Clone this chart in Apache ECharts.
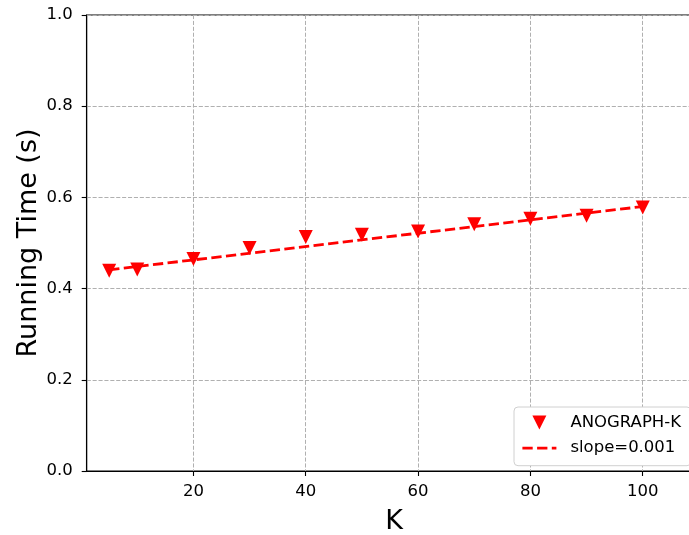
<!DOCTYPE html>
<html>
<head>
<meta charset="utf-8">
<script src="https://cdn.jsdelivr.net/npm/echarts@6/dist/echarts.min.js"></script>
<style>
html,body{margin:0;padding:0;background:#fff;}
#chart{width:689px;height:535px;}
</style>
</head>
<body>
<div id="chart"></div>
<script>
// Data
var kValues = [5, 10, 20, 30, 40, 50, 60, 70, 80, 90, 100];
var runningTime = [0.439, 0.442, 0.465, 0.489, 0.513, 0.518, 0.525, 0.541, 0.553, 0.560, 0.578];
var fitK = [5, 100];
var fitTime = [0.441, 0.580];
var xTicks = [20, 40, 60, 80, 100];
var yTicks = [0.0, 0.2, 0.4, 0.6, 0.8, 1.0];
var seriesName = 'ANOGRAPH-K';
var fitName = 'slope=0.001';

var scatterData = kValues.map(function (k, i) { return [k, runningTime[i]]; });
var fitData = fitK.map(function (k, i) { return [k, fitTime[i]]; });

var FONT = 'DejaVu Sans';
var chart = echarts.init(document.getElementById('chart'), null, {renderer: 'canvas'});
chart.setOption({
  backgroundColor: '#ffffff',
  animation: false,
  grid: {
    left: 86.7, top: 15, width: 615, height: 456,
    outerBoundsMode: 'none', containLabel: false,
    show: true, borderColor: '#000', borderWidth: 1.1, backgroundColor: 'transparent'
  },
  legend: {
    orient: 'vertical',
    left: 514, top: 407,
    padding: [7, 10, 9, 7],
    itemWidth: 34, itemHeight: 14, itemGap: 8.7,
    backgroundColor: '#fff',
    borderColor: '#d0d0d0', borderWidth: 1, borderRadius: 4,
    textStyle: {fontFamily: FONT, fontSize: 16.5, color: '#000', lineHeight: 14, padding: [0, 0, 0, 9]},
    data: [
      {name: seriesName, icon: 'path://M0,0L10,0L5,10Z'},
      {name: fitName, itemStyle: {opacity: 0, color: 'rgba(0,0,0,0)', borderWidth: 0},
        lineStyle: {width: 2.8, type: [10.3, 4.4], color: '#ff0000'}}
    ]
  },
  xAxis: {
    type: 'value',
    min: 1, max: 110.5,
    name: 'K', nameLocation: 'middle', nameGap: 37,
    nameTextStyle: {fontFamily: FONT, fontSize: 27, color: '#000'},
    axisLine: {show: true, lineStyle: {color: '#000', width: 1.1}},
    axisTick: {show: true, length: 5, lineStyle: {color: '#000', width: 1.1}, customValues: xTicks},
    axisLabel: {fontFamily: FONT, fontSize: 16.5, color: '#000', margin: 12, customValues: xTicks,
      formatter: function (v) { return String(v); }},
    splitLine: {show: true, lineStyle: {color: '#b0b0b0', width: 1, type: [4.1, 1.8]}}
  },
  yAxis: {
    type: 'value',
    min: 0, max: 1, interval: 0.2,
    name: 'Running Time (s)', nameLocation: 'middle', nameGap: 44, nameRotate: 90,
    nameMoveOverlap: false,
    nameTextStyle: {fontFamily: FONT, fontSize: 27, color: '#000'},
    axisLine: {show: true, lineStyle: {color: '#000', width: 1.1}},
    axisTick: {show: true, length: 5, lineStyle: {color: '#000', width: 1.1}},
    axisLabel: {fontFamily: FONT, fontSize: 16.5, color: '#000', margin: 14,
      formatter: function (v) { return v.toFixed(1); }},
    splitLine: {show: true, lineStyle: {color: '#b0b0b0', width: 1, type: [4.1, 1.8]}}
  },
  series: [
    {
      name: seriesName, type: 'scatter', data: scatterData,
      symbol: 'triangle', symbolRotate: 180, symbolSize: 14,
      itemStyle: {color: '#ff0000', opacity: 1}, z: 3
    },
    {
      name: fitName, type: 'line', data: fitData,
      symbol: 'none', showSymbol: false,
      lineStyle: {color: '#ff0000', width: 2.8, type: [10.3, 4.4]},
      itemStyle: {color: '#ff0000'}, z: 4
    }
  ]
});
</script>
</body>
</html>
